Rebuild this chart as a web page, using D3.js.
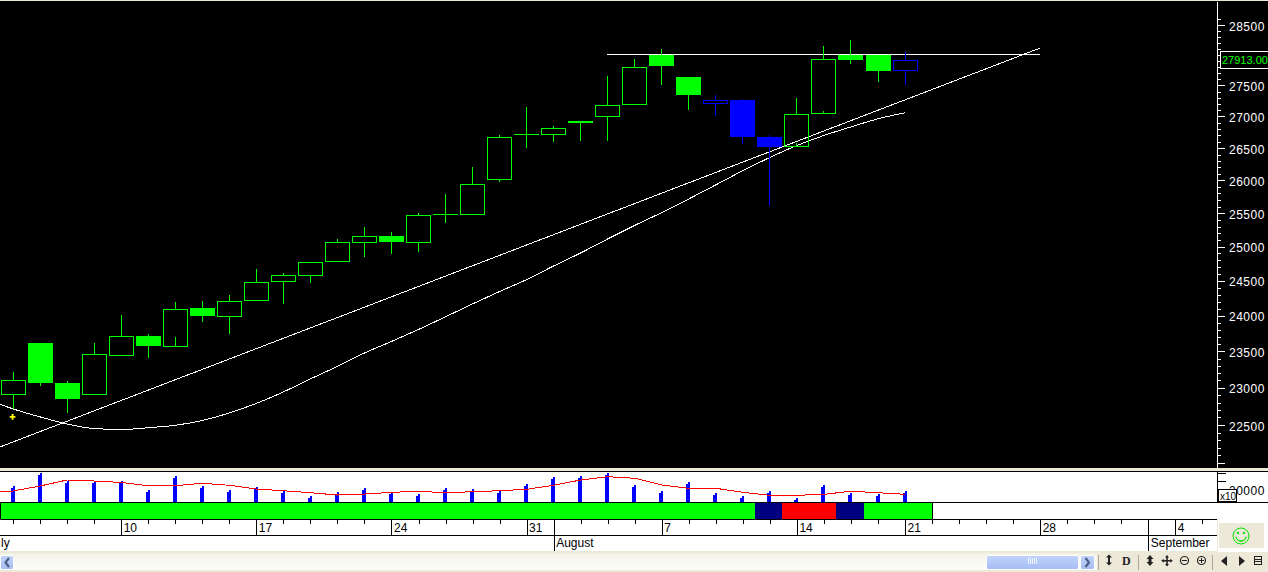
<!DOCTYPE html>
<html><head><meta charset="utf-8">
<script src="https://cdn.jsdelivr.net/npm/d3@7/dist/d3.min.js"></script>
<style>
html,body{margin:0;padding:0;background:#ece9d8;overflow:hidden}
svg{display:block}
text{font-family:"Liberation Sans",Arial,sans-serif}
.axis path,.axis line{shape-rendering:crispEdges}
</style></head><body><svg id="c" width="1268" height="572"></svg>
<script>
// ---- data ----
const highs=[23217,23618,23093,23618,24010,23744,24198,24212,24296,24673,24614,24771,25115,25294,25219,25503,25792,26206,26707,27153,26850,26924,27654,27934,28100,27638,27345,27281,26707,27297,28149,28250,28000,28050];
const lows=[22715,23029,22665,22907,23441,23413,23702,23916,23748,24215,24172,24473,24769,24853,24897,24927,25358,25469,25979,26506,26603,26616,26616,27180,27511,27109,27013,26570,25614,26574,27088,27857,27562,27511];
const opens=[22907,23618,23066,22907,23441,23716,23566,24110,23986,24215,24487,24575,24768,25060,25159,25060,25484,25469,26000,26718,26704,26924,26987,27180,28000,27638,27196,27265,26675,26512,27035,28000,28000,27733];
const closes=[23103,23070,22853,23464,23716,23580,24092,24000,24206,24478,24581,24771,25066,25155,25075,25469,25484,25939,26671,26718,26814,26902,27180,27797,27824,27350,27260,26682,26517,27035,27928,27923,27743,27912];
const candleColors=["g","g","g","g","g","g","g","g","g","g","g","g","g","g","g","g","g","g","g","g","g","g","g","g","g","g","b","b","b","g","g","g","g","b"];
const priceMA=[22849,22715,22608,22513,22453,22440,22464,22496,22560,22661,22789,22944,23121,23293,23478,23639,23807,23986,24169,24347,24519,24717,24908,25115,25317,25510,25716,25931,26149,26354,26541,26699,26834,26963,27060];
const trendIdx=[-0.49,38];
const trendVal=[22209,28115];
const resistanceIdx=[22,38];
const resistanceVal=[28009,28009];
const signalIdx=[0];
const signalVal=[22608];
const lastPrice=27913;
const volumes=[29100,52700,38200,38200,38200,21800,47300,29100,21800,27300,20000,10900,18200,25500,18200,14500,25500,23600,20000,32700,45500,47300,52700,30900,20000,36400,16400,10900,20000,7300,30900,16400,14500,20000];
const volumeMA=[20000,20000,29100,40000,38200,35500,29600,29600,34000,30400,23600,20500,16900,12700,14500,17600,19500,16900,18700,20500,23100,30400,40000,46000,43100,30900,24900,24900,17600,12200,12200,14000,19500,16900,14000];
const ribbonStates=["up","neutral","down","neutral","up"];
const ribbonEnds=[27.45,28.45,30.45,31.47,34];
const priceMajorTicks=[22000,22500,23000,23500,24000,24500,25000,25500,26000,26500,27000,27500,28000,28500];
const priceLabels=[22500,23000,23500,24000,24500,25000,25500,26000,26500,27000,27500,28500];
const dayTickIdx=[0,1,2,3,5,6,7,8,10,11,12,13,15,16,17,18,21,22,23,25,26,27,28,30,31,32,34,35,36,37,39,40,41,44];
const dayLabelIdx=[4,9,14,19,24,29,33,38,43];
const dayLabels=["10","17","24","31","7","14","21","28","4"];
const monthIdx=[20,42];
const monthLabels=["August","September"];
const volMajorTicks=[20000,38000,52700];
const volLabel="20000";

// ---- scales ----
const GREEN="#00ff00",BLUE="#0000ff",CREAM="#ece9d8";
const W=1268,H=572,AX=1217;
const x=d3.scaleLinear().domain([0,33]).range([13.05,905.04]);
const y=d3.scaleLog().domain([22500,28500]).range([425,25]);
const vy=d3.scaleLinear().domain([0,20000]).range([502,491]);
const ribbonColor=d3.scaleOrdinal().domain(["up","neutral","down"]).range([GREEN,"#000080","#ff0000"]);
const candleColor=d3.scaleOrdinal().domain(["g","b"]).range([GREEN,BLUE]);
const px=v=>Math.floor(x(v))+.5;

const svg=d3.select("#c");
svg.append("rect").attr("width",W).attr("height",H).attr("fill",CREAM);
svg.append("rect").attr("x",0).attr("y",1).attr("width",W).attr("height",467).attr("fill","#000");
svg.append("rect").attr("x",0).attr("y",471).attr("width",W).attr("height",81).attr("fill","#fff");
svg.append("defs").append("clipPath").attr("id","pl").append("rect").attr("x",0).attr("y",1).attr("width",AX).attr("height",467);

// ---- main pane ----
const main=svg.append("g").attr("clip-path","url(#pl)");
const whiteLine=(pts,gen)=>main.append("path").attr("d",gen(pts)).attr("fill","none").attr("stroke","#fff").attr("stroke-width",1).attr("shape-rendering","crispEdges");
whiteLine(priceMA.map((v,i)=>[i-1,v]),d3.line().x(d=>x(d[0])).y(d=>y(d[1])).curve(d3.curveMonotoneX)).attr("class","ma");
whiteLine(trendIdx.map((v,i)=>[v,trendVal[i]]),d3.line().x(d=>x(d[0])).y(d=>y(d[1]))).attr("class","trend");
main.append("line").attr("x1",px(resistanceIdx[0])-1).attr("x2",x(resistanceIdx[1])).attr("y1",Math.floor(y(resistanceVal[0]))+.5).attr("y2",Math.floor(y(resistanceVal[1]))+.5).attr("stroke","#fff").attr("shape-rendering","crispEdges");

const candles=main.selectAll("g.candle").data(highs.map((h,i)=>({i,h,l:lows[i],o:opens[i],c:closes[i],col:candleColor(candleColors[i])}))).join("g").attr("class","candle").attr("shape-rendering","crispEdges");
candles.each(function(d){
  const g=d3.select(this),cx=px(d.i),top=Math.round(y(Math.max(d.o,d.c))),bot=Math.round(y(Math.min(d.o,d.c)));
  g.append("line").attr("x1",cx).attr("x2",cx).attr("y1",Math.round(y(d.h))).attr("y2",top).attr("stroke",d.col);
  g.append("line").attr("x1",cx).attr("x2",cx).attr("y1",bot).attr("y2",Math.round(y(d.l))).attr("stroke",d.col);
  if(d.c>d.o){
    g.append("rect").attr("x",cx-12).attr("y",top+.5).attr("width",24).attr("height",Math.max(bot-top-1,1)).attr("fill","none").attr("stroke",d.col);
  }else{
    g.append("rect").attr("x",cx-12.5).attr("y",top).attr("width",25).attr("height",Math.max(bot-top,1)).attr("fill",d.col);
  }
});
main.selectAll("path.sig").data(signalIdx).join("path").attr("class","sig")
  .attr("d",d3.symbol(d3.symbolCross,18)).attr("fill","#ffff00")
  .attr("transform",(d,i)=>`translate(${x(d)-.5},${y(signalVal[i])})`);

// ---- price axis ----
const minor=d3.range(220,287).map(v=>v*100).filter(v=>y(v)>2&&y(v)<468&&v%500);
const axMinor=svg.append("g").attr("class","axis").attr("transform",`translate(${AX},0)`)
  .call(d3.axisRight(y).tickValues(minor).tickSize(4).tickFormat(""));
const axMajor=svg.append("g").attr("class","axis").attr("transform",`translate(${AX},0)`)
  .call(d3.axisRight(y).tickValues(priceMajorTicks).tickSize(8).tickPadding(4).tickFormat(v=>priceLabels.includes(v)?String(v):""));
[axMinor,axMajor].forEach(a=>{a.select(".domain").remove();a.selectAll("line").attr("stroke","#fff");a.selectAll("text").attr("fill","#fff").attr("font-size",12).attr("letter-spacing",.5).attr("dy",".42em")});
svg.append("line").attr("x1",AX).attr("x2",AX).attr("y1",2).attr("y2",468).attr("stroke","#fff").attr("shape-rendering","crispEdges").attr("transform","translate(.5,0)");
const box=svg.append("g");
box.append("rect").attr("x",1220.5).attr("y",51.5).attr("width",50).attr("height",17).attr("fill","#000").attr("stroke","#fff").attr("shape-rendering","crispEdges");
box.append("text").attr("x",1222).attr("y",64).attr("fill",GREEN).attr("font-size",11).text(lastPrice.toFixed(2));

// ---- volume pane ----
svg.append("rect").attr("x",0).attr("y",471).attr("width",W).attr("height",1).attr("fill","#000");
const vol=svg.append("g").attr("shape-rendering","crispEdges");
volumes.forEach((v,i)=>{
  const l=Math.floor(x(i)),t=Math.round(vy(v));
  vol.append("rect").attr("x",l-2).attr("y",t+2).attr("width",2).attr("height",502-t-2).attr("fill",BLUE);
  vol.append("rect").attr("x",l).attr("y",t).attr("width",2).attr("height",502-t).attr("fill",BLUE);
});
svg.append("path").attr("d",d3.line().x((d,i)=>x(i-1)).y(d=>vy(d))(volumeMA)).attr("fill","none").attr("stroke","#ff0000").attr("stroke-width",1).attr("shape-rendering","crispEdges");
const vAx=svg.append("g").attr("class","axis").attr("transform",`translate(${AX},0)`)
  .call(d3.axisRight(vy).tickValues(volMajorTicks).tickSize(9).tickPadding(3).tickFormat(v=>v===20000?volLabel:""));
vAx.select(".domain").remove();
vAx.selectAll("line").attr("stroke","#000");
vAx.selectAll("text").attr("fill","#000").attr("font-size",12).attr("letter-spacing",.5);
svg.append("rect").attr("x",1217).attr("y",472).attr("width",1).attr("height",30).attr("fill","#000");
svg.append("rect").attr("x",1218.5).attr("y",489.5).attr("width",18).attr("height",12).attr("fill","#fff").attr("stroke","#000").attr("shape-rendering","crispEdges");
svg.append("text").attr("x",1220).attr("y",500).attr("font-size",10).attr("fill","#000").text("x10");

// ---- ribbon ----
let start=-0.45;
const rib=svg.append("g").attr("shape-rendering","crispEdges");
ribbonStates.forEach((s,i)=>{
  const a=Math.round(x(start)),b=Math.round(x(ribbonEnds[i]));
  rib.append("rect").attr("x",a).attr("y",503).attr("width",b-a).attr("height",16).attr("fill",ribbonColor(s));
  rib.append("rect").attr("x",b).attr("y",503).attr("width",1).attr("height",16).attr("fill","#000");
  start=ribbonEnds[i];
});
rib.append("rect").attr("x",0).attr("y",503).attr("width",1).attr("height",16).attr("fill","#000");
rib.append("rect").attr("x",0).attr("y",502).attr("width",W).attr("height",1).attr("fill","#000");
rib.append("rect").attr("x",0).attr("y",519).attr("width",AX).attr("height",1).attr("fill","#000");

// ---- date axis ----
const dayAx=svg.append("g").attr("class","axis").attr("transform","translate(0,519)")
  .call(d3.axisBottom(x).tickValues(dayTickIdx).tickSize(5).tickFormat(""));
dayAx.select(".domain").remove();dayAx.selectAll("line").attr("stroke","#000");
const labAx=svg.append("g").attr("class","axis").attr("transform","translate(0,519)")
  .call(d3.axisBottom(x).tickValues(dayLabelIdx).tickSize(16).tickFormat((d,i)=>dayLabels[i]));
labAx.select(".domain").remove();labAx.selectAll("line").attr("stroke","#000");
labAx.selectAll("text").attr("text-anchor","start").attr("x",2).attr("y",0).attr("dy",13).attr("fill","#000").attr("font-size",12);
const monAx=svg.append("g").attr("class","axis").attr("transform","translate(0,519)")
  .call(d3.axisBottom(x).tickValues(monthIdx).tickSize(32).tickFormat((d,i)=>monthLabels[i]));
monAx.select(".domain").remove();monAx.selectAll("line").attr("stroke","#000");
monAx.selectAll("text").attr("text-anchor","start").attr("x",2).attr("y",0).attr("dy",28).attr("fill","#000").attr("font-size",12);
svg.append("rect").attr("x",0).attr("y",535).attr("width",AX).attr("height",1).attr("fill","#000");
svg.append("text").attr("x",1).attr("y",547).attr("font-size",12).attr("fill","#000").text("ly");

// ---- bottom chrome ----
svg.append("rect").attr("x",0).attr("y",551).attr("width",W).attr("height",21).attr("fill",CREAM);
svg.append("rect").attr("x",1217).attr("y",519).attr("width",51).attr("height",33).attr("fill","#fff");
svg.append("rect").attr("x",1218.5).attr("y",522.5).attr("width",46).attr("height",26).attr("fill",CREAM).attr("stroke","#fff").attr("shape-rendering","crispEdges");
svg.append("rect").attr("x",1217).attr("y",519).attr("width",1).attr("height",33).attr("fill",CREAM);
const sm=svg.append("g").attr("transform","translate(1241,536)").attr("fill","none").attr("stroke","#00e000");
sm.append("circle").attr("r",8);
sm.append("path").attr("d",d3.arc()({innerRadius:5,outerRadius:5,startAngle:Math.PI*.55,endAngle:Math.PI*1.45}));
sm.append("circle").attr("cx",-3).attr("cy",-3).attr("r",.8).attr("fill","#00e000");
sm.append("circle").attr("cx",3).attr("cy",-3).attr("r",.8).attr("fill","#00e000");

const defs=svg.select("defs");
const gr=defs.append("linearGradient").attr("id","trk").attr("x1",0).attr("x2",0).attr("y1",0).attr("y2",1);
gr.append("stop").attr("offset",0).attr("stop-color","#f3f1e6");gr.append("stop").attr("offset",1).attr("stop-color","#fdfdfa");
const gb=defs.append("linearGradient").attr("id","thb").attr("x1",0).attr("x2",0).attr("y1",0).attr("y2",1);
gb.append("stop").attr("offset",0).attr("stop-color","#c2d3fb");gb.append("stop").attr("offset",1).attr("stop-color","#a4bdf3");
svg.append("rect").attr("x",0).attr("y",553).attr("width",1097).attr("height",17).attr("fill","url(#trk)");
const btn=(a,w)=>svg.append("rect").attr("x",a+.5).attr("y",555.5).attr("width",w).attr("height",14).attr("rx",2).attr("fill","url(#thb)").attr("stroke","#fff");
btn(0,13);btn(986,92);btn(1080,14);
svg.append("path").attr("d","M9 558l-3.500 4.500 3.500 4.500").attr("fill","none").attr("stroke","#4d6185").attr("stroke-width",2.2);
svg.append("path").attr("d","M1085.500 558l3.500 4.500-3.500 4.500").attr("fill","none").attr("stroke","#4d6185").attr("stroke-width",2.2);
svg.append("path").attr("d","M1028.5 558v6M1030.5 558v6M1032.5 558v6M1034.5 558v6M1036.5 558v6").attr("stroke","#eef3fd");
[1098.5,1138.5,1212.5].forEach(a=>svg.append("line").attr("x1",a).attr("x2",a).attr("y1",555).attr("y2",570).attr("stroke","#aca899"));
const ic=svg.append("g").attr("fill","#222").attr("stroke","none");
ic.append("path").attr("d","M1109 555l3 3h-2v5h2l-3 3-3-3h2v-5h-2z").attr("transform","translate(0,-.5)");
ic.append("text").attr("x",1122).attr("y",565).attr("font-size",12).attr("font-weight","bold").attr("style",'font-family:"Liberation Serif",serif').text("D");
ic.append("path").attr("d","M1150 555l3.500 4h-2v3h2l-3.500 4-3.500-4h2v-3h-2l3.500-4z");
ic.append("path").attr("d","M1167 555l2 2.500h-1.200v2.500h2.500v-1.200l2.500 2-2.500 2v-1.200h-2.500v2.500h1.200l-2 2.500-2-2.500h1.200v-2.500h-2.500v1.200l-2.500-2 2.500-2v1.200h2.500v-2.500h-1.200z");
ic.append("circle").attr("cx",1184.5).attr("cy",560.5).attr("r",4).attr("fill","none").attr("stroke","#222").attr("stroke-width",1.2);
ic.append("path").attr("d","M1182 560h5v1h-5z");
ic.append("circle").attr("cx",1201.5).attr("cy",560.5).attr("r",4).attr("fill","none").attr("stroke","#222").attr("stroke-width",1.2);
ic.append("path").attr("d","M1199 560h5v1h-5zM1201 558h1v5h-1z");
ic.append("path").attr("d","M1227 556v10l-6-5z");
ic.append("path").attr("d","M1239 556v10l6-5z");
ic.append("rect").attr("x",1254.5).attr("y",556.5).attr("width",7).attr("height",8).attr("fill","none").attr("stroke","#222");
ic.append("path").attr("d","M1255 559h6v1h-6zM1255 561h6v1h-6z");
</script></body></html>
